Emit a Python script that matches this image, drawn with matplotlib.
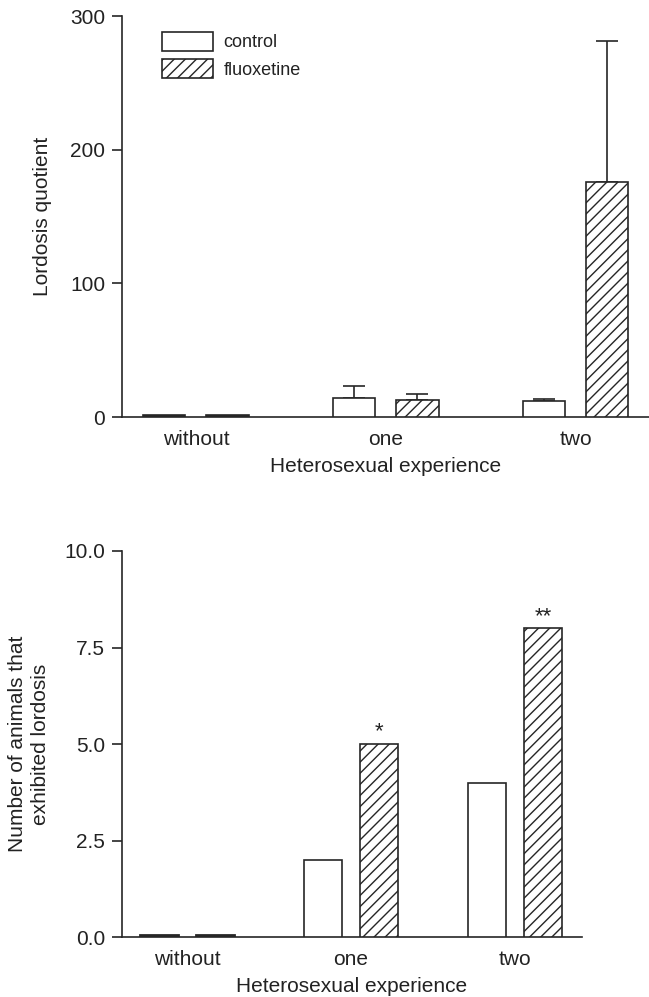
import matplotlib
matplotlib.use("Agg")
import matplotlib.pyplot as plt
from matplotlib.patches import Patch
import numpy as np

plt.rcParams['font.family'] = ['Liberation Sans', 'DejaVu Sans']
plt.rcParams['hatch.linewidth'] = 1.0
plt.rcParams['hatch.color'] = '#1a1a1a'

# Data
groups = ["without", "one", "two"]
series = ["control", "fluoxetine"]

lq_control = [1.5, 14.0, 12.0]
lq_fluox = [1.5, 12.5, 176.0]
lq_control_err = [0.0, 9.0, 1.5]
lq_fluox_err = [0.0, 4.5, 105.0]

n_control = [0.06, 2.0, 4.0]
n_fluox = [0.06, 5.0, 8.0]
n_fluox_marks = ["", "*", "**"]

LINE = '#262626'
TEXT = '#222222'
FS = 15

fig = plt.figure(figsize=(6.49, 9.97), dpi=100)
W, H = 649, 997


def px_axes(left, top, right, bottom):
    return fig.add_axes([left / W, 1 - bottom / H, (right - left) / W, (bottom - top) / H])


def style(ax):
    for s in ('top', 'right'):
        ax.spines[s].set_visible(False)
    for s in ('left', 'bottom'):
        ax.spines[s].set_color(LINE)
        ax.spines[s].set_linewidth(1.2)
    ax.tick_params(axis='y', length=7.2, width=1.2, color=LINE, labelsize=FS,
                   labelcolor=TEXT, pad=5)
    ax.tick_params(axis='x', length=0, labelsize=FS, labelcolor=TEXT, pad=9)


x = np.arange(len(groups))

# Top panel: lordosis quotient
ax1 = px_axes(122, 16, 649, 417)
ax1.set_xlim(-0.389, 2.385)
ax1.set_ylim(0, 300)
off1, w1 = 0.166, 0.222
b1 = ax1.bar(x - off1, lq_control, w1, color='white', edgecolor=LINE, linewidth=1.2,
             zorder=3)
b2 = ax1.bar(x + off1, lq_fluox, w1, color='white', edgecolor=LINE, linewidth=1.2,
             hatch='///', zorder=3)
# near-zero bars show as a solid dark strip
for bc in (b1, b2):
    bc[0].set_facecolor(LINE)
    bc[0].set_hatch(None)
for xs, vals, errs in ((x - off1, lq_control, lq_control_err), (x + off1, lq_fluox, lq_fluox_err)):
    for xi, v, e in zip(xs, vals, errs):
        if e > 0:
            ax1.errorbar(xi, v, yerr=[[0], [e]], fmt='none', ecolor=LINE,
                         elinewidth=1.2, capsize=8, capthick=1.2, zorder=2)
ax1.set_yticks([0, 100, 200, 300])
ax1.set_xticks(x)
ax1.set_xticklabels(groups)
style(ax1)
ax1.set_ylabel("Lordosis quotient", fontsize=FS, color=TEXT, labelpad=13)
ax1.set_xlabel("Heterosexual experience", fontsize=FS, color=TEXT, labelpad=6)

h1 = Patch(facecolor='white', edgecolor=LINE, linewidth=1.2)
h2 = Patch(facecolor='white', edgecolor=LINE, linewidth=1.2, hatch='///')
ax1.legend(handles=[h1, h2], labels=series, loc='upper left',
           bbox_to_anchor=(40 / 527, 1 - 16 / 401), frameon=False, fontsize=13,
           handlelength=2.8, handleheight=1.2, handletextpad=0.6,
           labelspacing=0.45, borderpad=0, borderaxespad=0, labelcolor=TEXT)

# Bottom panel: number of animals
ax2 = px_axes(122, 551, 582, 937)
ax2.set_xlim(-0.396, 2.409)
ax2.set_ylim(0, 10)
off2, w2 = 0.171, 0.232
c1 = ax2.bar(x - off2, n_control, w2, color='white', edgecolor=LINE, linewidth=1.2, zorder=3)
c2 = ax2.bar(x + off2, n_fluox, w2, color='white', edgecolor=LINE, linewidth=1.2,
             hatch='///', zorder=3)
for bc in (c1, c2):
    bc[0].set_facecolor(LINE)
    bc[0].set_hatch(None)
    bc[0].set_linewidth(2.0)
for rect, mark in zip(c2, n_fluox_marks):
    if mark:
        ax2.annotate(mark, (rect.get_x() + rect.get_width() / 2, rect.get_height()),
                     xytext=(0, 1), textcoords='offset points', ha='center', va='bottom',
                     fontsize=16, color=TEXT)
ax2.set_yticks([0, 2.5, 5.0, 7.5, 10.0])
ax2.set_yticklabels(["0.0", "2.5", "5.0", "7.5", "10.0"])
ax2.set_xticks(x)
ax2.set_xticklabels(groups)
style(ax2)
ax2.set_ylabel("Number of animals that\nexhibited lordosis", fontsize=FS, color=TEXT,
               labelpad=10, linespacing=1.3)
ax2.set_xlabel("Heterosexual experience", fontsize=FS, color=TEXT, labelpad=6)

fig.savefig("out.png", dpi=100)
